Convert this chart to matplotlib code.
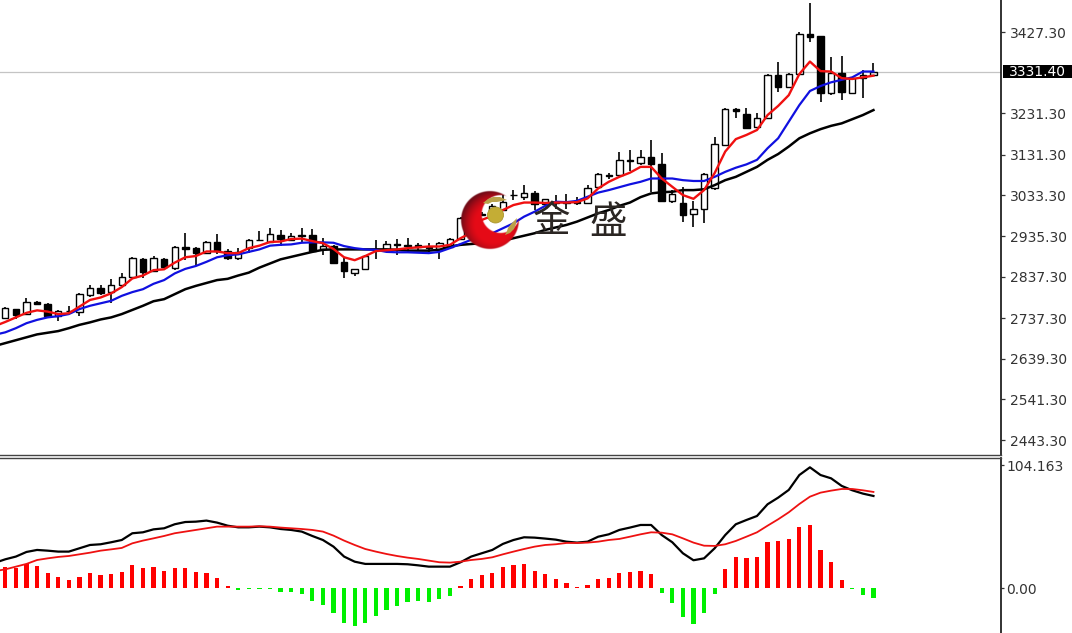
#!/usr/bin/env python3
# candlestick chart with moving averages and MACD panel
import numpy as np
import matplotlib
matplotlib.use('Agg')
import matplotlib.pyplot as plt
from matplotlib.patches import Circle, Polygon, Rectangle

plt.rcParams['font.family'] = ['DejaVu Sans', 'Noto Sans CJK SC']

opens = [2738.3,2759.3,2747.2,2776.1,2772.0,2742.4,2754.4,2752.7,2793.0,2809.9,2799.5,2816.4,2835.7,2880.6,2851.6,2879.8,2857.4,2908.1,2905.7,2895.0,2920.1,2899.9,2883.0,2905.7,2925.0,2921.6,2938.4,2925.7,2937.0,2937.0,2903.3,2911.9,2873.3,2846.8,2855.7,2901.6,2904.0,2916.0,2913.6,2914.3,2909.5,2904.7,2908.1,2927.4,2950.0,2988.4,2988.4,2998.0,3033.0,3028.6,3039.7,3011.8,3017.3,3017.3,3017.3,3014.2,3052.8,3081.2,3082.4,3118.6,3110.6,3126.6,3109.0,3020.5,3015.6,2987.6,3001.2,3051.1,3154.8,3240.9,3229.6,3197.5,3219.2,3323.6,3295.4,3326.0,3422.5,3417.0,3279.5,3327.7,3280.9,3317.1,3323.6]
closes = [2760.9,2744.8,2776.9,2772.0,2742.4,2754.4,2755.6,2794.7,2809.2,2798.6,2816.4,2837.2,2881.5,2849.2,2881.5,2859.8,2909.5,2904.7,2893.6,2920.1,2899.9,2881.5,2897.5,2926.4,2926.4,2939.4,2927.4,2936.0,2934.6,2899.9,2911.9,2870.9,2849.7,2855.7,2887.1,2903.3,2916.0,2912.9,2911.2,2908.1,2906.4,2917.7,2928.8,2978.0,2969.0,2986.5,3007.7,3018.0,3034.2,3039.7,3011.8,3023.8,3016.1,3016.1,3016.1,3050.4,3084.8,3082.4,3118.6,3117.4,3126.6,3109.0,3019.7,3035.9,2986.0,3001.2,3085.6,3157.2,3240.9,3237.5,3196.5,3219.2,3324.3,3295.4,3326.0,3421.8,3416.0,3279.5,3327.7,3281.9,3315.7,3323.6,3331.4]
highs = [2764.1,2759.0,2786.5,2779.3,2773.7,2756.8,2766.5,2797.8,2817.1,2817.1,2830.9,2845.4,2884.7,2883.0,2887.1,2882.2,2911.9,2943.3,2908.8,2923.3,2940.1,2903.3,2907.1,2928.1,2947.4,2953.9,2949.8,2941.8,2953.9,2952.9,2929.8,2913.6,2882.2,2856.9,2889.5,2925.7,2923.3,2928.1,2929.8,2919.2,2919.2,2921.6,2930.5,2981.2,2975.0,2993.2,3012.5,3034.2,3046.3,3058.3,3043.8,3024.6,3034.2,3036.6,3029.4,3058.3,3087.3,3088.0,3137.9,3142.7,3142.7,3166.9,3134.8,3046.3,3054.2,3019.7,3088.0,3174.8,3244.0,3244.0,3244.0,3231.2,3326.0,3355.7,3328.4,3428.0,3498.0,3417.7,3366.3,3370.2,3318.8,3335.7,3353.3]
lows = [2737.5,2735.2,2744.8,2768.9,2740.0,2730.3,2749.6,2743.1,2788.2,2793.0,2773.0,2812.3,2834.0,2834.7,2848.5,2858.1,2853.3,2877.4,2863.0,2893.6,2891.9,2877.4,2877.4,2893.6,2924.5,2918.4,2911.2,2924.0,2918.4,2897.5,2889.5,2869.5,2834.0,2838.9,2853.3,2879.1,2901.6,2889.5,2897.5,2901.6,2895.0,2879.8,2906.4,2925.7,2945.0,2983.5,2983.5,2995.6,3022.1,3022.1,2998.0,3010.1,3000.4,3000.4,3010.1,3012.5,3051.1,3072.1,3080.0,3092.1,3106.6,3042.2,3017.3,3014.2,2969.8,2956.3,2967.4,3046.3,3152.4,3219.2,3192.7,3195.8,3217.5,3283.3,3293.0,3323.6,3404.0,3259.2,3275.4,3263.3,3278.5,3267.4,3321.2]

# the line series start one bar earlier, off the left of the first whole candle
ma_red = [2718,2728,2739,2750,2756,2753,2747,2749,2765,2781,2787,2797,2812,2833,2840,2853,2855,2871,2884,2887,2898,2898,2894,2894,2906,2912,2921,2922,2928,2929,2923,2918,2904,2884,2877,2887,2899,2901,2903,2906,2908,2910,2910,2914,2930,2943,2974,2984,2998,3010,3016,3016,3015,3016,3016,3017,3026,3050,3066,3078,3088,3102,3102,3074,3054,3034,3025,3046,3087,3139,3169,3179,3191,3227,3249,3275,3326,3356,3333,3332,3316,3314,3318,3322]
ma_blue = [2697,2703,2713,2725,2733,2739,2742,2747,2759,2767,2773,2779,2791,2800,2807,2820,2829,2845,2856,2863,2873,2884,2889,2891,2897,2903,2912,2914,2915,2919,2920,2920,2919,2911,2906,2903,2902,2897,2896,2896,2895,2894,2897,2906,2916,2926,2934,2942,2954,2966,2982,2994,3008,3018,3017,3020,3030,3040,3046,3053,3060,3066,3074,3074,3074,3070,3068,3068,3078,3090,3100,3108,3119,3147,3171,3211,3251,3285,3297,3306,3312,3318,3332,3332]
ma_black = [2670,2677,2684,2691,2698,2702,2706,2713,2721,2727,2734,2739,2747,2757,2767,2778,2783,2795,2807,2815,2822,2829,2832,2840,2847,2859,2869,2879,2885,2891,2897,2902,2903,2903,2903,2903,2903,2903,2902,2900,2900,2900,2902,2910,2914,2916,2918,2922,2924,2930,2936,2942,2950,2956,2962,2970,2980,2990,2998,3008,3016,3029,3038,3041,3042,3046,3046,3048,3058,3070,3078,3090,3102,3119,3133,3151,3171,3183,3193,3201,3207,3217,3227,3239]

macd_hist = [17.7,16.9,20.3,18.9,12.7,9.9,7.0,9.9,12.7,11.3,12.1,14.1,19.7,17.5,18.3,14.6,17.5,16.9,13.5,12.7,8.4,2.0,-1.2,-0.8,-0.6,-0.6,-2.8,-3.4,-4.8,-10.7,-14.1,-20.6,-29.0,-31.8,-29.0,-23.1,-18.3,-14.6,-11.8,-10.4,-11.3,-9.0,-6.3,2.0,7.6,11.3,13.2,18.3,19.7,20.3,14.6,11.8,7.6,4.8,0.8,2.8,7.6,9.0,13.2,14.1,14.6,11.8,-3.9,-12.1,-24.5,-30.1,-20.6,-4.5,16.1,26.5,25.9,26.5,39.1,40.0,41.4,51.8,53.2,32.1,22.0,6.8,-0.4,-5.6,-7.9]
macd_line = [21.5,24.5,26.8,30.7,32.4,31.8,31.0,31.0,33.8,36.6,37.2,38.9,40.8,46.5,47.3,49.8,50.7,54.1,56.0,56.3,57.2,55.5,52.9,51.5,51.5,52.1,51.5,50.1,49.3,47.9,44.2,40.8,35.2,26.8,22.5,20.6,20.6,20.6,20.6,20.3,19.4,18.3,18.3,18.3,22.0,26.8,29.6,32.4,37.5,40.8,43.1,42.8,42.0,41.1,39.4,38.6,39.4,43.6,45.6,49.3,51.3,53.5,53.5,45.0,38.9,29.6,23.7,25.3,33.8,45.0,54.1,57.7,61.1,71.0,76.6,83.1,95.7,102.2,95.7,92.9,86.5,82.8,80.0,78.0]
macd_signal = [14.5,16.0,18.3,20.6,23.9,25.3,26.5,27.3,28.7,30.1,31.8,32.9,34.1,38.0,40.3,42.2,44.2,46.5,47.9,49.3,50.7,52.1,52.1,52.1,52.1,52.4,52.1,51.3,50.7,50.1,49.3,47.9,44.5,40.3,36.6,33.2,31.0,29.0,27.3,25.9,24.8,23.4,22.0,21.7,22.5,23.9,24.8,26.2,28.7,31.0,33.2,35.2,36.6,37.2,38.3,38.3,38.6,39.4,40.8,41.7,43.6,45.6,47.3,47.0,45.6,42.2,38.6,36.0,35.8,37.2,40.0,43.6,47.3,52.9,58.3,64.2,71.2,77.4,80.8,82.5,83.9,83.9,82.8,81.4]

price_ticks = [3427.30,3231.30,3131.30,3033.30,2935.30,2837.30,2737.30,2639.30,2541.30,2443.30]
macd_ticks = [104.163,0.0]
macd_tick_labels = ['104.163','0.00']
last_price = 3331.40

W, H = 1072, 633
fig = plt.figure(figsize=(W/100, H/100), dpi=100)
ax = fig.add_axes([0, (H-455)/H, 1000.5/W, 455/H])
ax2 = fig.add_axes([0, 0, 1000.5/W, (H-458)/H])

x = np.arange(len(closes))
line_x = np.arange(-1, len(closes))
xlim = (-0.5, 94.0)

# candles
o, c = np.array(opens), np.array(closes)
up = c >= o
ax.vlines(x, lows, highs, color='black', lw=1.2, zorder=2)
ax.bar(x[up], (c-o)[up], bottom=o[up], width=0.6, facecolor='white', edgecolor='black', lw=1.0, zorder=3)
ax.bar(x[~up], (o-c)[~up], bottom=c[~up], width=0.62, facecolor='black', edgecolor='black', lw=1.0, zorder=3)

ax.axhline(last_price, color='#c4c4c4', lw=0.9, zorder=1)
ax.plot(line_x, ma_black, color='black', lw=1.8, zorder=4)
ax.plot(line_x, ma_blue, color='#1010e0', lw=1.6, zorder=5)
ax.plot(line_x, ma_red, color='#f01010', lw=1.7, zorder=6)

ax.set_xlim(xlim)
ax.set_ylim(3504.5-2.4118*455, 3504.5)
ax.set_xticks([])
ax.yaxis.tick_right()
ax.set_yticks(price_ticks)
ax.set_yticklabels(['%.2f' % p for p in price_ticks])

# current price flag on the axis
tr = ax.get_yaxis_transform()
ax.add_patch(Rectangle((1003/1000.5, last_price-15.7), 69/1000.5, 31.4, transform=tr, fc='black', ec='none', clip_on=False, zorder=9))
ax.text(1009/1000.5, last_price, '%.2f' % last_price, color='white', fontsize=10, va='center', ha='left',
        transform=tr, clip_on=False, zorder=10)

# macd panel
hist = np.array(macd_hist)
ax2.bar(x[hist >= 0], hist[hist >= 0], width=0.4, color='#ff0000', zorder=2)
ax2.bar(x[hist < 0], hist[hist < 0], width=0.4, color='#00f000', zorder=2)
ax2.plot(line_x, macd_line, color='black', lw=1.6, zorder=3)
ax2.plot(line_x, macd_signal, color='#ee1111', lw=1.3, zorder=4)
ax2.set_xlim(xlim)
ax2.set_ylim((588.3-H)*0.8448, (588.3-458)*0.8448)
ax2.set_xticks([])
ax2.yaxis.tick_right()
ax2.set_yticks(macd_ticks)
ax2.set_yticklabels(macd_tick_labels)

for a in (ax, ax2):
    a.spines['left'].set_visible(False)
    a.spines['right'].set_linewidth(1.3)
    a.spines['right'].set_color('#222222')
ax.tick_params(axis='y', length=3, width=0.9, pad=3.6, labelsize=10, colors='#333333')
ax2.tick_params(axis='y', length=2, width=0.9, pad=2.4, labelsize=10, colors='#333333')
ax.spines['top'].set_visible(False)
ax.spines['bottom'].set_color('#444444')
ax.spines['bottom'].set_linewidth(1.0)
ax2.spines['top'].set_color('#444444')
ax2.spines['top'].set_linewidth(1.0)
ax2.spines['bottom'].set_visible(False)

# watermark logo, sits on top of the chart
logo = fig.add_axes([0, 0, 1, 1], facecolor='none')
logo.axis('off')

gx, gy = np.meshgrid(np.linspace(458, 522, 256), np.linspace(188, 252, 256))
r_out = np.hypot(gx-490, gy-220)
r_in = np.hypot(gx-500.7, gy-214)
shade = np.clip((np.hypot(gx-494, gy-224)/33-0.55)/0.45, 0, 1)**1.5
rgba = np.zeros(gx.shape + (4,))
rgba[..., 0] = 0.90-0.45*shade
rgba[..., 1] = 0.04
rgba[..., 2] = 0.09
rgba[..., 3] = np.clip(29-r_out+0.5, 0, 1)*np.clip(r_in-19+0.5, 0, 1)
logo.imshow(rgba, extent=(458, 522, 252, 188), zorder=1, interpolation='bilinear', aspect='auto')
logo.set_xlim(0, W)
logo.set_ylim(H, 0)

logo.add_patch(Polygon([(483,203),(488,199),(493,197),(500,197),(507,200),(502,201),(497,202),(492,202),(488,204)], closed=True, fc='#b9a24a', ec='none', zorder=2))
logo.add_patch(Polygon([(505,235),(510,233),(514,229),(516,224),(517,218),(514,221),(511,224),(508,228),(507,231)], closed=True, fc='#b9a24a', ec='none', zorder=2))
logo.add_patch(Circle((495.5,215), 8, fc='#c4ad35', ec='#a99530', lw=0.6, zorder=3))

for cx, ch in ((551.5,'金'), (608.5,'盛')):
    logo.text(cx, 222, ch, fontsize=27, family=['Noto Sans CJK SC','DejaVu Sans'], color='#2b2623', ha='center', va='center', zorder=4)

fig.savefig('out.png', dpi=100, facecolor='white')
